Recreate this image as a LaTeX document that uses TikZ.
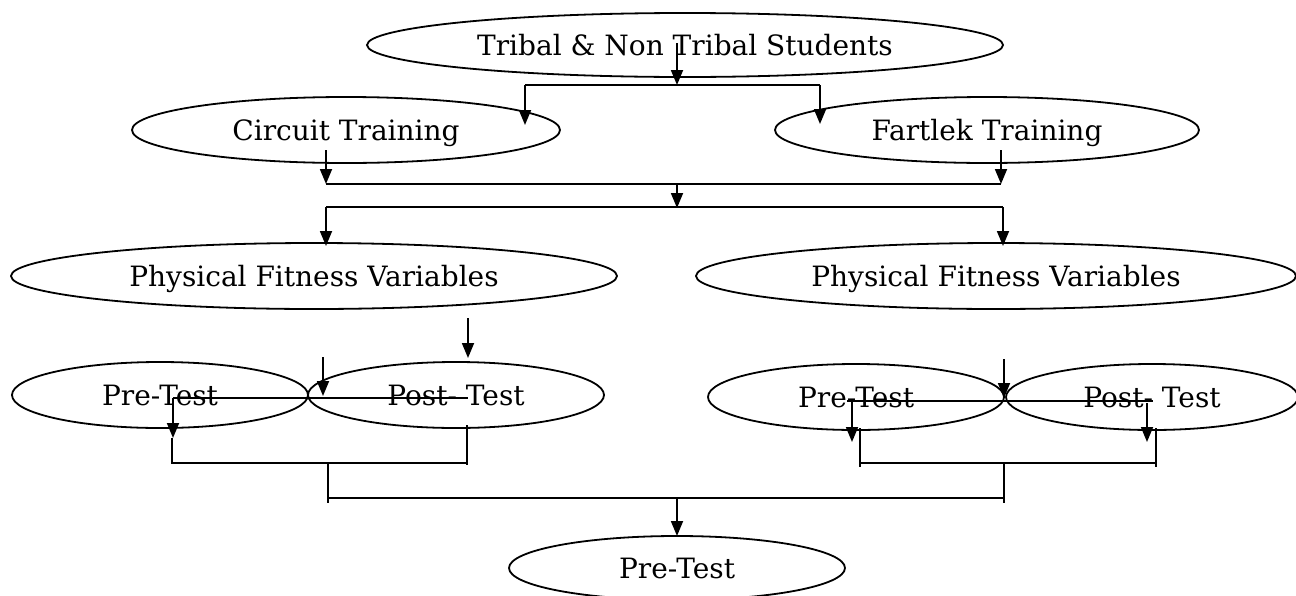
\documentclass[tikz,border=0pt]{standalone}
\usepackage{fontspec}
\setmainfont{DejaVu Serif}
\usetikzlibrary{shapes.geometric, arrows.meta}
\tikzstyle{oval} = [ellipse, draw=black, line width=0.9pt, inner sep=0pt, text depth=0pt, font=\fontsize{14}{16}\selectfont]
\tikzstyle{arrow} = [line width=0.9pt,->,>={Triangle[width=6pt,length=7.5pt]}]
\tikzstyle{line} = [line width=0.9pt]

\begin{document}
\begin{tikzpicture}[x=0.5pt,y=-0.5pt]
\useasboundingbox (0,0) rectangle (1296,595);
% ovals
\node[oval, minimum width=318pt, minimum height=32pt] (students) at (685,45) {Tribal \& Non Tribal Students};
\node[oval, minimum width=214pt, minimum height=33pt] (circuit) at (346,130) {Circuit Training};
\node[oval, minimum width=212pt, minimum height=33pt] (fartlek) at (987,130) {Fartlek Training};
\node[oval, minimum width=303pt, minimum height=33pt] (pfvleft) at (314,276) {Physical Fitness Variables};
\node[oval, minimum width=300pt, minimum height=33pt] (pfvright) at (996,276) {Physical Fitness Variables};
\node[oval, minimum width=148pt, minimum height=33pt] (preleft) at (160,395) {Pre-Test};
\node[oval, minimum width=148pt, minimum height=33pt] (postleft) at (456,395) {Post- Test};
\node[oval, minimum width=148pt, minimum height=33pt] (preright) at (856,397) {Pre-Test};
\node[oval, minimum width=146pt, minimum height=33pt] (postright) at (1152,397) {Post- Test};
\node[oval, minimum width=168pt, minimum height=32pt] (final) at (677,568) {Pre-Test};

% top split
\coordinate (a1) at (677,43);
\coordinate (a2) at (677,85);
\coordinate (a3) at (525,85);
\coordinate (a4) at (820,85);
\draw[arrow] (a1) -- (a2);
\draw[line] (a3) -- (a4);
\draw[arrow] (a3) -- (525,125);
\draw[arrow] (a4) -- (820,124);

% join of trainings
\coordinate (b1) at (326,184);
\coordinate (b2) at (1001,184);
\coordinate (b3) at (677,184);
\draw[arrow] (326,150) -- (b1);
\draw[arrow] (1001,150) -- (b2);
\draw[line] (b1) -- (b2);
\coordinate (c1) at (326,207);
\coordinate (c2) at (1003,207);
\draw[arrow] (b3) -- (677,208);
\draw[line] (c1) -- (c2);
\draw[arrow] (c1) -- (326,246);
\draw[arrow] (c2) -- (1003,246);

% left tests
\draw[arrow] (468,318) -- (468,358);
\draw[arrow] (323,357) -- (323,396);
\coordinate (d1) at (173,398);
\coordinate (d2) at (468,398);
\draw[line] (d1) -- (d2);
\draw[arrow] (d1) -- (173,438);
\coordinate (e1) at (172,463);
\coordinate (e2) at (467,463);
\draw[line] (172,438) -- (e1) -- (e2);
\draw[line] (467,425) -- (467,465);
\coordinate (e3) at (328,463);

% right tests
\draw[arrow] (1004,359) -- (1004,398);
\coordinate (f1) at (847,401);
\coordinate (f2) at (1153,401);
\draw[line] (f1) -- (f2);
\draw[arrow] (852,402) -- (852,442);
\draw[arrow] (1147,403) -- (1147,442);
\coordinate (g1) at (860,463);
\coordinate (g2) at (1156,463);
\draw[line] (g1) -- (g2);
\draw[line] (860,428) -- (860,467);
\draw[line] (1156,428) -- (1156,467);
\coordinate (g3) at (1004,463);

% bottom join
\coordinate (h1) at (328,498);
\coordinate (h2) at (1004,498);
\coordinate (h3) at (677,498);
\draw[line] (e3) -- (h1);
\draw[line] (g3) -- (h2);
\draw[line] (h1) -- (h2);
\draw[line] (328,463) -- (328,503);
\draw[line] (1004,463) -- (1004,503);
\draw[arrow] (h3) -- (677,536);
\end{tikzpicture}
\end{document}
